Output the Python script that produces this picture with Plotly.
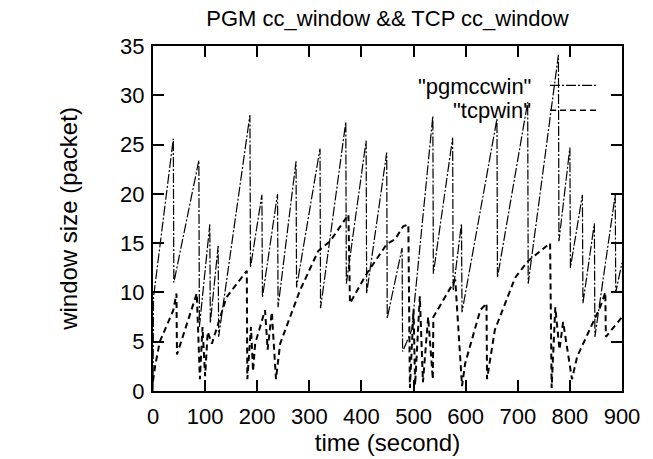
import plotly.graph_objects as go

# ---- data (time in s, window in packets) ----
pgm_t = [0, 1, 39, 40, 88, 89, 109, 110, 125, 126, 186, 187, 209, 210, 239, 240,
         274.5, 275.5, 320.5, 321.5, 370, 371, 409, 410, 448.5, 449.5, 478, 479,
         496.5, 537, 538, 575, 576, 592, 593, 660, 661, 719, 720, 778, 779,
         800, 801, 824, 825, 847, 848, 887, 888, 900]
pgm_v = [0, 9.5, 25.6, 11.0, 23.4, 6.5, 16.9, 6.9, 14.7, 5.5, 28.0, 12.5, 19.9, 9.5, 20.0, 8.5,
         23.3, 10.5, 24.6, 8.4, 27.3, 10.9, 25.4, 9.9, 24.2, 7.4, 14.5, 4.0,
         6.2, 27.9, 11.9, 25.7, 10.2, 17.0, 8.0, 27.6, 11.5, 29.3, 10.9, 34.1, 15.2,
         24.7, 12.5, 19.9, 8.9, 17.0, 5.5, 19.9, 10.0, 13.0]

tcp_t = [0, 4, 13, 39, 45, 46, 84, 90, 95, 100, 105, 113, 141, 180, 181, 188, 192, 196,
         215, 220, 228, 236, 244, 282, 317, 340, 375, 378, 410, 448.5, 464.5, 480, 490,
         493, 500, 503, 512, 518, 528, 537, 538, 570, 580, 593, 599, 628, 640, 641,
         656, 695, 720, 762, 765, 772, 780, 787, 804, 814, 858, 868, 869, 900]
tcp_v = [1.0, 2.5, 5.0, 8.2, 9.9, 3.7, 9.9, 1.2, 6.5, 1.5, 6.0, 4.8, 9.5, 12.2, 1.2, 6.5, 2.0, 4.8,
         8.2, 4.2, 8.0, 1.2, 4.8, 10.2, 14.2, 15.2, 17.9, 8.9, 11.9, 14.9, 15.4, 16.7, 16.9,
         0.3, 8.3, 0.6, 9.6, 0.9, 7.5, 1.2, 7.5, 10.5, 11.3, 0.5, 2.8, 8.2, 8.9, 1.2,
         6.2, 11.5, 13.2, 15.0, 0.3, 8.5, 4.2, 7.0, 1.2, 3.5, 8.5, 10.0, 5.5, 7.5]

x_ticks = [0, 100, 200, 300, 400, 500, 600, 700, 800, 900]
y_ticks = [0, 5, 10, 15, 20, 25, 30, 35]

title_text = "PGM cc_window && TCP cc_window"
x_title = "time (second)"
y_title = "window size (packet)"
names = ['"pgmccwin"', '"tcpwin"']

FONT = "Liberation Sans, Arial, Helvetica, sans-serif"
PGM_DASH = "10px,2px,2px,2px"
TCP_DASH = "6px,4px"

fig = go.Figure()
fig.add_trace(go.Scatter(x=pgm_t, y=pgm_v, mode="lines", name=names[0],
                         line=dict(color="black", width=1.2, dash=PGM_DASH)))
fig.add_trace(go.Scatter(x=tcp_t, y=tcp_v, mode="lines", name=names[1],
                         line=dict(color="black", width=2, dash=TCP_DASH)))

# gnuplot-style key: text right-aligned, line sample to its right
key_text_y = [0.884, 0.814]
key_line_y = [0.886, 0.814]
dashes = [PGM_DASH, TCP_DASH]
widths = [1.2, 1.5]
for nm, ty, ly, d, w in zip(names, key_text_y, key_line_y, dashes, widths):
    fig.add_annotation(xref="paper", yref="paper", x=0.8102, y=ty, text=nm,
                       showarrow=False, xanchor="right", yanchor="middle",
                       font=dict(family=FONT, size=22, color="black"))
    fig.add_shape(type="line", xref="paper", yref="paper", x0=0.8465, x1=0.9446,
                  y0=ly, y1=ly, line=dict(color="black", width=w, dash=d))

axis_common = dict(showgrid=False, zeroline=False, showline=True, linecolor="black",
                   linewidth=2, mirror="ticks", ticks="inside", ticklen=11,
                   tickwidth=2, tickcolor="black",
                   tickfont=dict(family=FONT, size=22, color="black"))

fig.update_xaxes(range=[0, 900], tickvals=x_ticks, ticktext=[str(v) for v in x_ticks],
                 title=dict(text=x_title, font=dict(family=FONT, size=24, color="black"),
                            standoff=1),
                 ticklabelstandoff=5, **axis_common)
fig.update_yaxes(range=[0, 35], tickvals=y_ticks, ticktext=[str(v) for v in y_ticks],
                 title=dict(text=y_title, font=dict(family=FONT, size=24, color="black"),
                            standoff=36),
                 ticklabelstandoff=2, **axis_common)

fig.update_layout(
    width=653, height=459,
    margin=dict(l=153, r=31, t=46, b=64, pad=0),
    paper_bgcolor="white", plot_bgcolor="white",
    showlegend=False,
    title=dict(text=title_text, x=0.5, xref="paper", xanchor="center",
               y=0.961, yanchor="middle", yref="container",
               font=dict(family=FONT, size=22, color="black")),
)

# remove the browser's default 8px page margin so the figure sits at (0, 0)
fig.write_html("out.html", config={"displayModeBar": False},
               post_script="document.body.style.margin='0px';")
